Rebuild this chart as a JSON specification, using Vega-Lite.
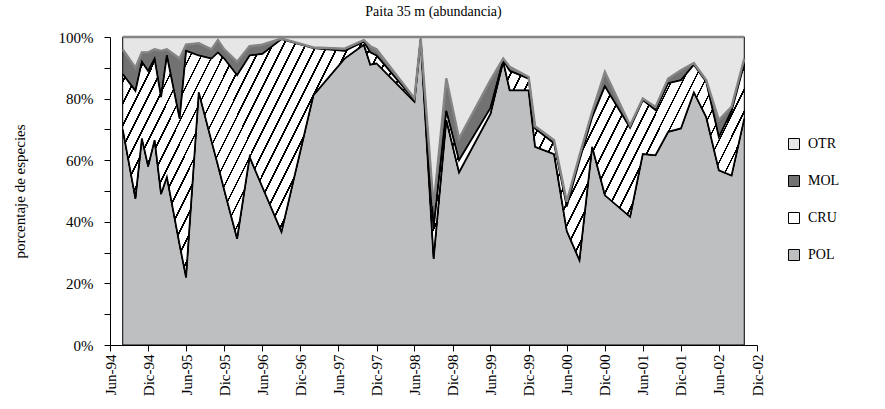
{
  "$schema": "https://vega.github.io/schema/vega-lite/v6.json",
  "autosize": "none",
  "width": 647,
  "height": 308,
  "padding": {"left": 110, "top": 37, "right": 128, "bottom": 64},
  "background": "white",
  "title": {"text": "Paita 35 m (abundancia)", "font": "Liberation Serif", "fontSize": 14, "fontWeight": "normal", "color": "#000", "offset": 11, "anchor": "middle"},
  "config": {"view": {"stroke": null}},
  "data": {
    "format": {"parse": {"d": "date"}},
    "values": [
      {"d": "1994-08-01", "POL": 70, "CRU": 18, "MOL": 8, "OTR": 4},
      {"d": "1994-10-01", "POL": 47.5, "CRU": 35, "MOL": 7.5, "OTR": 10},
      {"d": "1994-11-01", "POL": 67, "CRU": 25, "MOL": 3, "OTR": 5},
      {"d": "1994-12-01", "POL": 58, "CRU": 31, "MOL": 6, "OTR": 5},
      {"d": "1995-01-01", "POL": 66.5, "CRU": 26.5, "MOL": 3, "OTR": 4},
      {"d": "1995-02-01", "POL": 49, "CRU": 31.5, "MOL": 15, "OTR": 4.5},
      {"d": "1995-03-01", "POL": 54.5, "CRU": 39.5, "MOL": 2, "OTR": 4},
      {"d": "1995-05-01", "POL": 32.5, "CRU": 41, "MOL": 19.5, "OTR": 7},
      {"d": "1995-06-01", "POL": 22, "CRU": 73.5, "MOL": 2, "OTR": 2.5},
      {"d": "1995-08-01", "POL": 82, "CRU": 12, "MOL": 4, "OTR": 2},
      {"d": "1995-10-01", "POL": 66.2, "CRU": 26.8, "MOL": 3, "OTR": 4},
      {"d": "1995-11-01", "POL": 58.3, "CRU": 36.7, "MOL": 4, "OTR": 1},
      {"d": "1995-12-01", "POL": 50.3, "CRU": 42.7, "MOL": 3, "OTR": 4},
      {"d": "1996-02-01", "POL": 34.5, "CRU": 53.1, "MOL": 4.4, "OTR": 8},
      {"d": "1996-04-01", "POL": 61, "CRU": 33, "MOL": 3, "OTR": 3},
      {"d": "1996-06-01", "POL": 51.3, "CRU": 43.2, "MOL": 3, "OTR": 2.5},
      {"d": "1996-09-01", "POL": 36.7, "CRU": 62.6, "MOL": 0.2, "OTR": 0.5},
      {"d": "1997-02-01", "POL": 81, "CRU": 15.4, "MOL": 0.2, "OTR": 3.4},
      {"d": "1997-07-01", "POL": 93, "CRU": 2.5, "MOL": 0.7, "OTR": 3.8},
      {"d": "1997-10-01", "POL": 97.5, "CRU": 1, "MOL": 0.5, "OTR": 1},
      {"d": "1997-11-01", "POL": 91, "CRU": 4, "MOL": 2, "OTR": 3},
      {"d": "1997-12-01", "POL": 91.4, "CRU": 2.6, "MOL": 2, "OTR": 4},
      {"d": "1998-06-01", "POL": 79, "CRU": 0.5, "MOL": 0.5, "OTR": 20},
      {"d": "1998-07-01", "POL": 99, "CRU": 0.3, "MOL": 0.2, "OTR": 0.5},
      {"d": "1998-09-01", "POL": 28, "CRU": 10, "MOL": 7, "OTR": 55},
      {"d": "1998-11-01", "POL": 73, "CRU": 3, "MOL": 10.5, "OTR": 13.5},
      {"d": "1999-01-01", "POL": 56, "CRU": 4, "MOL": 7, "OTR": 33},
      {"d": "1999-06-01", "POL": 75, "CRU": 2, "MOL": 9, "OTR": 14},
      {"d": "1999-08-01", "POL": 92, "CRU": 0.5, "MOL": 0.5, "OTR": 7},
      {"d": "1999-09-01", "POL": 82.7, "CRU": 6.3, "MOL": 1.3, "OTR": 9.7},
      {"d": "1999-12-01", "POL": 82.7, "CRU": 3.8, "MOL": 0.5, "OTR": 13},
      {"d": "2000-01-01", "POL": 64.3, "CRU": 6, "MOL": 0.7, "OTR": 29},
      {"d": "2000-04-01", "POL": 62, "CRU": 3.5, "MOL": 1, "OTR": 33.5},
      {"d": "2000-06-01", "POL": 37, "CRU": 8, "MOL": 1.5, "OTR": 53.5},
      {"d": "2000-08-01", "POL": 27.5, "CRU": 32.5, "MOL": 1.5, "OTR": 38.5},
      {"d": "2000-10-01", "POL": 64.3, "CRU": 9.7, "MOL": 1.7, "OTR": 24.3},
      {"d": "2000-12-01", "POL": 48.6, "CRU": 35.4, "MOL": 4.6, "OTR": 11.4},
      {"d": "2001-04-01", "POL": 41.6, "CRU": 28.9, "MOL": 0.8, "OTR": 28.7},
      {"d": "2001-06-01", "POL": 62, "CRU": 17.5, "MOL": 0.5, "OTR": 20},
      {"d": "2001-08-01", "POL": 61.6, "CRU": 14.7, "MOL": 1, "OTR": 22.7},
      {"d": "2001-10-01", "POL": 69.2, "CRU": 15.8, "MOL": 1.5, "OTR": 13.5},
      {"d": "2001-12-01", "POL": 70.3, "CRU": 15.7, "MOL": 3.2, "OTR": 10.8},
      {"d": "2002-02-01", "POL": 82, "CRU": 9, "MOL": 0.5, "OTR": 8.5},
      {"d": "2002-04-01", "POL": 74, "CRU": 11.5, "MOL": 0.5, "OTR": 14},
      {"d": "2002-06-01", "POL": 56.7, "CRU": 10.8, "MOL": 5.5, "OTR": 27},
      {"d": "2002-08-01", "POL": 55, "CRU": 21, "MOL": 1.3, "OTR": 22.7},
      {"d": "2002-10-01", "POL": 73.5, "CRU": 17.9, "MOL": 1.6, "OTR": 7}
    ]
  },
  "transform": [
    {"fold": ["POL", "CRU", "MOL", "OTR"], "as": ["s", "v"]},
    {"calculate": "indexof(['POL','CRU','MOL','OTR'], datum.s)", "as": "ord"},
    {"stack": "v", "groupby": ["d"], "sort": [{"field": "ord", "order": "ascending"}], "as": ["v0", "v1"]}
  ],
  "encoding": {
    "x": {
      "field": "d", "type": "temporal",
      "scale": {"type": "utc", "domain": [{"year": 1994, "month": 6, "date": 1, "utc": true}, {"year": 2002, "month": 12, "date": 1, "utc": true}]},
      "axis": {
        "title": null, "grid": false,
        "values": [
          {"year": 1994, "month": 6, "date": 1, "utc": true}, {"year": 1994, "month": 12, "date": 1, "utc": true},
          {"year": 1995, "month": 6, "date": 1, "utc": true}, {"year": 1995, "month": 12, "date": 1, "utc": true},
          {"year": 1996, "month": 6, "date": 1, "utc": true}, {"year": 1996, "month": 12, "date": 1, "utc": true},
          {"year": 1997, "month": 6, "date": 1, "utc": true}, {"year": 1997, "month": 12, "date": 1, "utc": true},
          {"year": 1998, "month": 6, "date": 1, "utc": true}, {"year": 1998, "month": 12, "date": 1, "utc": true},
          {"year": 1999, "month": 6, "date": 1, "utc": true}, {"year": 1999, "month": 12, "date": 1, "utc": true},
          {"year": 2000, "month": 6, "date": 1, "utc": true}, {"year": 2000, "month": 12, "date": 1, "utc": true},
          {"year": 2001, "month": 6, "date": 1, "utc": true}, {"year": 2001, "month": 12, "date": 1, "utc": true},
          {"year": 2002, "month": 6, "date": 1, "utc": true}, {"year": 2002, "month": 12, "date": 1, "utc": true}
        ],
        "labelExpr": "replace(utcFormat(datum.value, '%b-%y'), 'Dec', 'Dic')",
        "labelAngle": -90, "labelFont": "Liberation Serif", "labelFontSize": 15, "labelColor": "#000",
        "labelPadding": 3, "tickSize": 6, "tickColor": "#000", "domainColor": "#000", "labelOverlap": false, "labelFlush": false
      }
    },
    "y": {
      "field": "v1", "type": "quantitative",
      "scale": {"domain": [0, 100], "nice": false},
      "axis": {
        "title": "porcentaje de especies", "titleFont": "Liberation Serif", "titleFontSize": 15, "titleFontWeight": "normal", "titleColor": "#000", "titlePadding": 31,
        "grid": false, "values": [0, 10, 20, 30, 40, 50, 60, 70, 80, 90, 100],
        "labelExpr": "datum.value % 20 == 0 ? datum.value + '%' : ''",
        "labelFont": "Liberation Serif", "labelFontSize": 15, "labelColor": "#000", "labelPadding": 11,
        "tickSize": 6, "tickColor": "#000", "domainColor": "#000"
      }
    },
    "y2": {"field": "v0"}
  },
  "layer": [
    {
      "mark": {"type": "area", "opacity": 1, "stroke": "#000", "strokeWidth": 1},
      "encoding": {
        "color": {
          "field": "s", "type": "nominal",
          "scale": {"domain": ["OTR", "MOL", "CRU", "POL"], "range": ["#e6e6e6", "#727272", "#ffffff", "#bebfc1"]},
          "legend": {
            "title": null, "orient": "none", "legendX": 677, "legendY": 100,
            "symbolType": "square", "symbolSize": 121, "symbolStrokeColor": "#000", "symbolStrokeWidth": 1, "symbolOpacity": 1,
            "labelFont": "Liberation Serif", "labelFontSize": 14, "labelColor": "#000", "labelOffset": 7, "rowPadding": 21
          }
        }
      }
    },
    {
      "transform": [{"filter": "datum.s == 'CRU'"}],
      "mark": {
        "type": "area", "opacity": 1, "stroke": "#000", "strokeWidth": 1,
        "fill": {
          "gradient": "linear", "x1": 0, "y1": 0, "x2": 1.2, "y2": 0.229,
          "stops": [
            {"offset": 0, "color": "#fff"},
            {"offset": 0.0118, "color": "#fff"}, {"offset": 0.0118, "color": "#000"}, {"offset": 0.0142, "color": "#000"}, {"offset": 0.0142, "color": "#fff"},
            {"offset": 0.026, "color": "#fff"}, {"offset": 0.026, "color": "#000"}, {"offset": 0.0284, "color": "#000"}, {"offset": 0.0284, "color": "#fff"},
            {"offset": 0.0402, "color": "#fff"}, {"offset": 0.0402, "color": "#000"}, {"offset": 0.0426, "color": "#000"}, {"offset": 0.0426, "color": "#fff"},
            {"offset": 0.0544, "color": "#fff"}, {"offset": 0.0544, "color": "#000"}, {"offset": 0.0568, "color": "#000"}, {"offset": 0.0568, "color": "#fff"},
            {"offset": 0.0686, "color": "#fff"}, {"offset": 0.0686, "color": "#000"}, {"offset": 0.071, "color": "#000"}, {"offset": 0.071, "color": "#fff"},
            {"offset": 0.0828, "color": "#fff"}, {"offset": 0.0828, "color": "#000"}, {"offset": 0.0852, "color": "#000"}, {"offset": 0.0852, "color": "#fff"},
            {"offset": 0.097, "color": "#fff"}, {"offset": 0.097, "color": "#000"}, {"offset": 0.0994, "color": "#000"}, {"offset": 0.0994, "color": "#fff"},
            {"offset": 0.1112, "color": "#fff"}, {"offset": 0.1112, "color": "#000"}, {"offset": 0.1136, "color": "#000"}, {"offset": 0.1136, "color": "#fff"},
            {"offset": 0.1254, "color": "#fff"}, {"offset": 0.1254, "color": "#000"}, {"offset": 0.1278, "color": "#000"}, {"offset": 0.1278, "color": "#fff"},
            {"offset": 0.1396, "color": "#fff"}, {"offset": 0.1396, "color": "#000"}, {"offset": 0.142, "color": "#000"}, {"offset": 0.142, "color": "#fff"},
            {"offset": 0.1538, "color": "#fff"}, {"offset": 0.1538, "color": "#000"}, {"offset": 0.1562, "color": "#000"}, {"offset": 0.1562, "color": "#fff"},
            {"offset": 0.168, "color": "#fff"}, {"offset": 0.168, "color": "#000"}, {"offset": 0.1704, "color": "#000"}, {"offset": 0.1704, "color": "#fff"},
            {"offset": 0.1822, "color": "#fff"}, {"offset": 0.1822, "color": "#000"}, {"offset": 0.1846, "color": "#000"}, {"offset": 0.1846, "color": "#fff"},
            {"offset": 0.1964, "color": "#fff"}, {"offset": 0.1964, "color": "#000"}, {"offset": 0.1988, "color": "#000"}, {"offset": 0.1988, "color": "#fff"},
            {"offset": 0.2106, "color": "#fff"}, {"offset": 0.2106, "color": "#000"}, {"offset": 0.213, "color": "#000"}, {"offset": 0.213, "color": "#fff"},
            {"offset": 0.2248, "color": "#fff"}, {"offset": 0.2248, "color": "#000"}, {"offset": 0.2272, "color": "#000"}, {"offset": 0.2272, "color": "#fff"},
            {"offset": 0.239, "color": "#fff"}, {"offset": 0.239, "color": "#000"}, {"offset": 0.2414, "color": "#000"}, {"offset": 0.2414, "color": "#fff"},
            {"offset": 0.2532, "color": "#fff"}, {"offset": 0.2532, "color": "#000"}, {"offset": 0.2556, "color": "#000"}, {"offset": 0.2556, "color": "#fff"},
            {"offset": 0.2674, "color": "#fff"}, {"offset": 0.2674, "color": "#000"}, {"offset": 0.2698, "color": "#000"}, {"offset": 0.2698, "color": "#fff"},
            {"offset": 0.2816, "color": "#fff"}, {"offset": 0.2816, "color": "#000"}, {"offset": 0.284, "color": "#000"}, {"offset": 0.284, "color": "#fff"},
            {"offset": 0.2958, "color": "#fff"}, {"offset": 0.2958, "color": "#000"}, {"offset": 0.2982, "color": "#000"}, {"offset": 0.2982, "color": "#fff"},
            {"offset": 0.31, "color": "#fff"}, {"offset": 0.31, "color": "#000"}, {"offset": 0.3124, "color": "#000"}, {"offset": 0.3124, "color": "#fff"},
            {"offset": 0.3242, "color": "#fff"}, {"offset": 0.3242, "color": "#000"}, {"offset": 0.3266, "color": "#000"}, {"offset": 0.3266, "color": "#fff"},
            {"offset": 0.3384, "color": "#fff"}, {"offset": 0.3384, "color": "#000"}, {"offset": 0.3408, "color": "#000"}, {"offset": 0.3408, "color": "#fff"},
            {"offset": 0.3526, "color": "#fff"}, {"offset": 0.3526, "color": "#000"}, {"offset": 0.355, "color": "#000"}, {"offset": 0.355, "color": "#fff"},
            {"offset": 0.3668, "color": "#fff"}, {"offset": 0.3668, "color": "#000"}, {"offset": 0.3692, "color": "#000"}, {"offset": 0.3692, "color": "#fff"},
            {"offset": 0.381, "color": "#fff"}, {"offset": 0.381, "color": "#000"}, {"offset": 0.3834, "color": "#000"}, {"offset": 0.3834, "color": "#fff"},
            {"offset": 0.3952, "color": "#fff"}, {"offset": 0.3952, "color": "#000"}, {"offset": 0.3976, "color": "#000"}, {"offset": 0.3976, "color": "#fff"},
            {"offset": 0.4094, "color": "#fff"}, {"offset": 0.4094, "color": "#000"}, {"offset": 0.4118, "color": "#000"}, {"offset": 0.4118, "color": "#fff"},
            {"offset": 0.4236, "color": "#fff"}, {"offset": 0.4236, "color": "#000"}, {"offset": 0.426, "color": "#000"}, {"offset": 0.426, "color": "#fff"},
            {"offset": 0.4378, "color": "#fff"}, {"offset": 0.4378, "color": "#000"}, {"offset": 0.4402, "color": "#000"}, {"offset": 0.4402, "color": "#fff"},
            {"offset": 0.452, "color": "#fff"}, {"offset": 0.452, "color": "#000"}, {"offset": 0.4544, "color": "#000"}, {"offset": 0.4544, "color": "#fff"},
            {"offset": 0.4662, "color": "#fff"}, {"offset": 0.4662, "color": "#000"}, {"offset": 0.4686, "color": "#000"}, {"offset": 0.4686, "color": "#fff"},
            {"offset": 0.4804, "color": "#fff"}, {"offset": 0.4804, "color": "#000"}, {"offset": 0.4828, "color": "#000"}, {"offset": 0.4828, "color": "#fff"},
            {"offset": 0.4946, "color": "#fff"}, {"offset": 0.4946, "color": "#000"}, {"offset": 0.497, "color": "#000"}, {"offset": 0.497, "color": "#fff"},
            {"offset": 0.5088, "color": "#fff"}, {"offset": 0.5088, "color": "#000"}, {"offset": 0.5112, "color": "#000"}, {"offset": 0.5112, "color": "#fff"},
            {"offset": 0.523, "color": "#fff"}, {"offset": 0.523, "color": "#000"}, {"offset": 0.5254, "color": "#000"}, {"offset": 0.5254, "color": "#fff"},
            {"offset": 0.5372, "color": "#fff"}, {"offset": 0.5372, "color": "#000"}, {"offset": 0.5396, "color": "#000"}, {"offset": 0.5396, "color": "#fff"},
            {"offset": 0.5514, "color": "#fff"}, {"offset": 0.5514, "color": "#000"}, {"offset": 0.5538, "color": "#000"}, {"offset": 0.5538, "color": "#fff"},
            {"offset": 0.5656, "color": "#fff"}, {"offset": 0.5656, "color": "#000"}, {"offset": 0.568, "color": "#000"}, {"offset": 0.568, "color": "#fff"},
            {"offset": 0.5798, "color": "#fff"}, {"offset": 0.5798, "color": "#000"}, {"offset": 0.5822, "color": "#000"}, {"offset": 0.5822, "color": "#fff"},
            {"offset": 0.594, "color": "#fff"}, {"offset": 0.594, "color": "#000"}, {"offset": 0.5964, "color": "#000"}, {"offset": 0.5964, "color": "#fff"},
            {"offset": 0.6082, "color": "#fff"}, {"offset": 0.6082, "color": "#000"}, {"offset": 0.6106, "color": "#000"}, {"offset": 0.6106, "color": "#fff"},
            {"offset": 0.6224, "color": "#fff"}, {"offset": 0.6224, "color": "#000"}, {"offset": 0.6248, "color": "#000"}, {"offset": 0.6248, "color": "#fff"},
            {"offset": 0.6366, "color": "#fff"}, {"offset": 0.6366, "color": "#000"}, {"offset": 0.639, "color": "#000"}, {"offset": 0.639, "color": "#fff"},
            {"offset": 0.6508, "color": "#fff"}, {"offset": 0.6508, "color": "#000"}, {"offset": 0.6532, "color": "#000"}, {"offset": 0.6532, "color": "#fff"},
            {"offset": 0.665, "color": "#fff"}, {"offset": 0.665, "color": "#000"}, {"offset": 0.6674, "color": "#000"}, {"offset": 0.6674, "color": "#fff"},
            {"offset": 0.6792, "color": "#fff"}, {"offset": 0.6792, "color": "#000"}, {"offset": 0.6816, "color": "#000"}, {"offset": 0.6816, "color": "#fff"},
            {"offset": 0.6934, "color": "#fff"}, {"offset": 0.6934, "color": "#000"}, {"offset": 0.6958, "color": "#000"}, {"offset": 0.6958, "color": "#fff"},
            {"offset": 0.7076, "color": "#fff"}, {"offset": 0.7076, "color": "#000"}, {"offset": 0.71, "color": "#000"}, {"offset": 0.71, "color": "#fff"},
            {"offset": 0.7218, "color": "#fff"}, {"offset": 0.7218, "color": "#000"}, {"offset": 0.7242, "color": "#000"}, {"offset": 0.7242, "color": "#fff"},
            {"offset": 0.736, "color": "#fff"}, {"offset": 0.736, "color": "#000"}, {"offset": 0.7384, "color": "#000"}, {"offset": 0.7384, "color": "#fff"},
            {"offset": 0.7502, "color": "#fff"}, {"offset": 0.7502, "color": "#000"}, {"offset": 0.7526, "color": "#000"}, {"offset": 0.7526, "color": "#fff"},
            {"offset": 0.7644, "color": "#fff"}, {"offset": 0.7644, "color": "#000"}, {"offset": 0.7668, "color": "#000"}, {"offset": 0.7668, "color": "#fff"},
            {"offset": 0.7786, "color": "#fff"}, {"offset": 0.7786, "color": "#000"}, {"offset": 0.781, "color": "#000"}, {"offset": 0.781, "color": "#fff"},
            {"offset": 0.7928, "color": "#fff"}, {"offset": 0.7928, "color": "#000"}, {"offset": 0.7952, "color": "#000"}, {"offset": 0.7952, "color": "#fff"},
            {"offset": 0.807, "color": "#fff"}, {"offset": 0.807, "color": "#000"}, {"offset": 0.8094, "color": "#000"}, {"offset": 0.8094, "color": "#fff"},
            {"offset": 0.8212, "color": "#fff"}, {"offset": 0.8212, "color": "#000"}, {"offset": 0.8236, "color": "#000"}, {"offset": 0.8236, "color": "#fff"},
            {"offset": 0.8354, "color": "#fff"}, {"offset": 0.8354, "color": "#000"}, {"offset": 0.8378, "color": "#000"}, {"offset": 0.8378, "color": "#fff"},
            {"offset": 0.8496, "color": "#fff"}, {"offset": 0.8496, "color": "#000"}, {"offset": 0.852, "color": "#000"}, {"offset": 0.852, "color": "#fff"},
            {"offset": 0.8638, "color": "#fff"}, {"offset": 0.8638, "color": "#000"}, {"offset": 0.8662, "color": "#000"}, {"offset": 0.8662, "color": "#fff"},
            {"offset": 0.878, "color": "#fff"}, {"offset": 0.878, "color": "#000"}, {"offset": 0.8804, "color": "#000"}, {"offset": 0.8804, "color": "#fff"},
            {"offset": 0.8922, "color": "#fff"}, {"offset": 0.8922, "color": "#000"}, {"offset": 0.8946, "color": "#000"}, {"offset": 0.8946, "color": "#fff"},
            {"offset": 0.9064, "color": "#fff"}, {"offset": 0.9064, "color": "#000"}, {"offset": 0.9088, "color": "#000"}, {"offset": 0.9088, "color": "#fff"},
            {"offset": 0.9206, "color": "#fff"}, {"offset": 0.9206, "color": "#000"}, {"offset": 0.923, "color": "#000"}, {"offset": 0.923, "color": "#fff"},
            {"offset": 0.9348, "color": "#fff"}, {"offset": 0.9348, "color": "#000"}, {"offset": 0.9372, "color": "#000"}, {"offset": 0.9372, "color": "#fff"},
            {"offset": 0.949, "color": "#fff"}, {"offset": 0.949, "color": "#000"}, {"offset": 0.9514, "color": "#000"}, {"offset": 0.9514, "color": "#fff"},
            {"offset": 0.9632, "color": "#fff"}, {"offset": 0.9632, "color": "#000"}, {"offset": 0.9656, "color": "#000"}, {"offset": 0.9656, "color": "#fff"},
            {"offset": 0.9774, "color": "#fff"}, {"offset": 0.9774, "color": "#000"}, {"offset": 0.9798, "color": "#000"}, {"offset": 0.9798, "color": "#fff"},
            {"offset": 1, "color": "#fff"}
          ]
        }
      },
      "encoding": {}
    },
    {
      "transform": [{"filter": "datum.s == 'POL' || datum.s == 'CRU'"}],
      "mark": {"type": "line", "stroke": "#000", "strokeWidth": 1.8},
      "encoding": {"detail": {"field": "s"}, "y2": null}
    },
    {
      "transform": [{"filter": "datum.s == 'MOL' || datum.s == 'OTR'"}],
      "mark": {"type": "line", "stroke": "#858585", "strokeWidth": 2.4},
      "encoding": {"detail": {"field": "s"}, "y2": null}
    }
  ]
}
